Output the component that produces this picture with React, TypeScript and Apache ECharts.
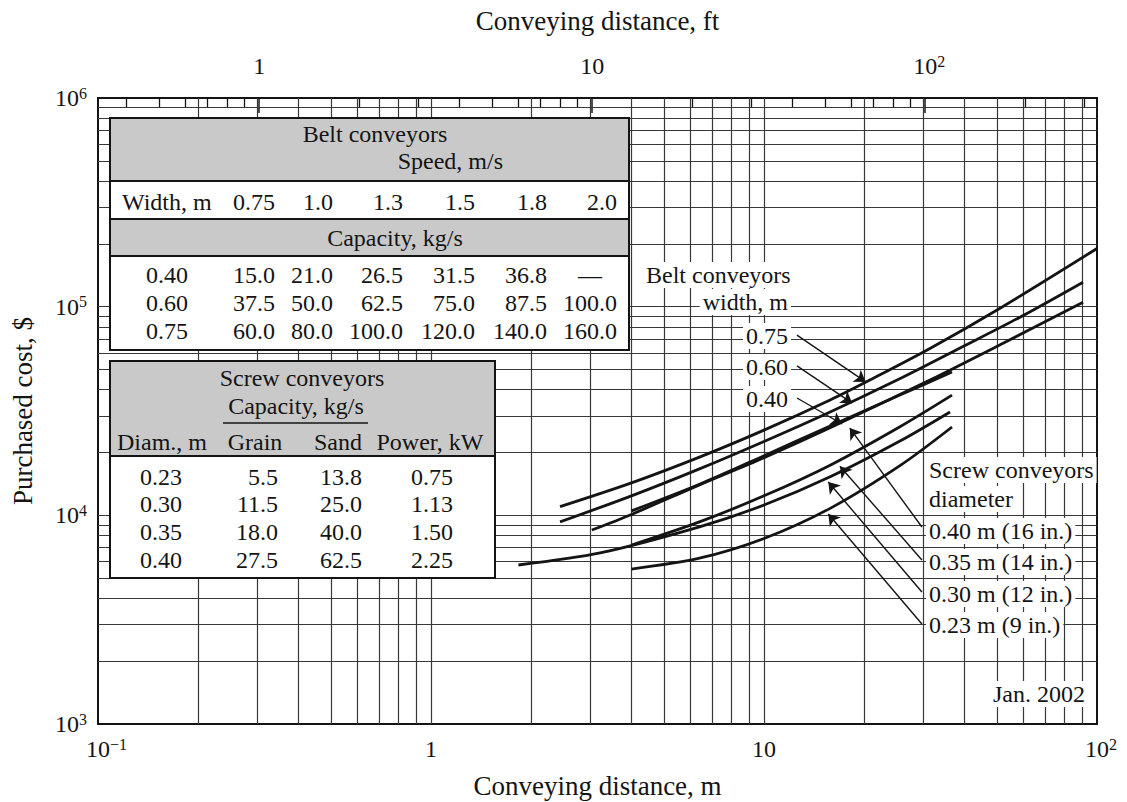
import React, { useEffect, useRef } from 'react';
import * as echarts from 'echarts';

const SERIF = "'Liberation Serif', 'DejaVu Serif', serif";
const INK = '#141414';
const M_PER_FT = 0.3048;

// ---- Curves (conveying distance in m, purchased cost in $) ----
const belt075X = [2.44, 4.0, 6.4, 10, 15.8, 20.8, 31.5, 51, 100];
const belt075Y = [11000, 14300, 19000, 25600, 35700, 44500, 63000, 98000, 190000];
const belt060X = [2.44, 4.0, 6.4, 10, 15.8, 25.1, 38.8, 58.7, 90.8];
const belt060Y = [9300, 12400, 16700, 22600, 31300, 44500, 63400, 89000, 131000];
const belt040X = [3.04, 4.0, 6.4, 10, 15.8, 31.5, 51, 90.8];
const belt040Y = [8500, 10100, 14000, 18900, 26300, 44500, 65500, 105000];
const screw040X = [4.0, 6.4, 10, 15.8, 25.6, 36.7];
const screw040Y = [10500, 14100, 19300, 26800, 37700, 48600];
const screw035X = [4.0, 6.4, 10, 15.8, 25.6, 36.7];
const screw035Y = [7200, 9300, 12400, 17400, 26600, 37700];
const screw030X = [1.83, 3.22, 6.4, 10, 15.8, 25.6, 36.2];
const screw030Y = [5780, 6600, 8800, 11200, 15300, 22700, 31300];
const screw023X = [4.0, 6.4, 10, 15.8, 25.6, 36.7];
const screw023Y = [5530, 6230, 7740, 10800, 17300, 26500];

// ---- Log-paper grid values ----
const gridXValues = [0.2, 0.3, 0.4, 0.5, 0.6, 0.7, 0.8, 0.9, 1, 2, 3, 4, 5, 6, 7, 8, 9, 10, 20, 30, 40, 50, 60, 70, 80, 90];
const gridYValues = [2000, 3000, 4000, 5000, 6000, 7000, 8000, 9000, 10000, 20000, 30000, 40000, 50000, 60000, 70000, 80000, 90000,
  100000, 200000, 300000, 400000, 500000, 600000, 700000, 800000, 900000];
const ftMajor = [1, 10, 100];
const ftMinor = [0.4, 0.5, 0.6, 0.7, 0.8, 0.9, 2, 3, 4, 5, 6, 7, 8, 9, 20, 30, 40, 50, 60, 70, 80, 90, 200, 300];

// ---- Tables ----
const beltTitle = 'Belt conveyors';
const beltSpeedTitle = 'Speed, m/s';
const beltWidthHead = 'Width, m';
const beltSpeeds = ['0.75', '1.0', '1.3', '1.5', '1.8', '2.0'];
const beltCapTitle = 'Capacity, kg/s';
const beltWidths = ['0.40', '0.60', '0.75'];
const beltCap040 = ['15.0', '21.0', '26.5', '31.5', '36.8', '—'];
const beltCap060 = ['37.5', '50.0', '62.5', '75.0', '87.5', '100.0'];
const beltCap075 = ['60.0', '80.0', '100.0', '120.0', '140.0', '160.0'];

const screwTitle = 'Screw conveyors';
const screwCapTitle = 'Capacity, kg/s';
const screwHeads = ['Diam., m', 'Grain', 'Sand', 'Power, kW'];
const screwDiam = ['0.23', '0.30', '0.35', '0.40'];
const screwGrain = ['5.5', '11.5', '18.0', '27.5'];
const screwSand = ['13.8', '25.0', '40.0', '62.5'];
const screwPower = ['0.75', '1.13', '1.50', '2.25'];

// ---- Annotations ----
const beltLabelLines = ['Belt conveyors', 'width, m'];
const beltWidthLabels = ['0.75', '0.60', '0.40'];
const screwLabelLines = ['Screw conveyors', 'diameter'];
const screwDiamLabels = ['0.40 m (16 in.)', '0.35 m (14 in.)', '0.30 m (12 in.)', '0.23 m (9 in.)'];
const dateLabel = 'Jan. 2002';
const beltArrowFrom = [[12.56, 73100], [12.56, 52000], [12.56, 36500]];
const beltArrowTo = [[20.2, 43600], [18.4, 34500], [17.15, 27400]];
const screwArrowFrom = [[29.8, 8790], [29.8, 6110], [29.8, 4290], [29.8, 3015]];
const screwArrowTo = [[18.1, 26200], [16.9, 17200], [15.6, 14450], [15.6, 10150]];

const zip = (xs: number[], ys: number[]) => xs.map((x, i) => [x, ys[i]]);

const rich = {
  b: { fontSize: 24, fontFamily: SERIF, color: INK, lineHeight: 26 },
  s: { fontSize: 16, fontFamily: SERIF, color: INK, verticalAlign: 'top', lineHeight: 16 },
  h: { fontSize: 16, fontFamily: SERIF, color: 'rgba(0,0,0,0)', verticalAlign: 'top', lineHeight: 16 },
};

function powLabel(v: number, centerBase: boolean) {
  const e = Math.round(Math.log10(v));
  if (e === 0) return '{b|1}';
  if (e === 1) return '{b|10}';
  const sup = e < 0 ? '−' + String(-e) : String(e);
  return (centerBase ? `{h|${sup}}` : '') + `{b|10}{s|${sup}}`;
}

function buildOption() {
  const curveStyle = { color: INK, width: 2.8 };
  const curve = (name: string, xs: number[], ys: number[]) => ({
    name, type: 'line', data: zip(xs, ys), smooth: 0.3, showSymbol: false, symbol: 'none',
    lineStyle: curveStyle, itemStyle: { color: INK }, z: 20, silent: true,
  });

  const T = (text: string, x: number, y: number, align = 'left', extra: any = {}) => ({
    type: 'text', x, y, z: 12, silent: true,
    style: { text, fontSize: 24, fontFamily: SERIF, fill: INK, align, verticalAlign: 'middle', ...extra },
  });
  const R = (x: number, y: number, w: number, h: number, fill: string, stroke?: string, lw = 0) => ({
    type: 'rect', z: 10, silent: true, shape: { x, y, width: w, height: h },
    style: { fill, stroke: stroke || 'none', lineWidth: lw },
  });
  const L = (x1: number, y1: number, x2: number, y2: number, lw = 2) => ({
    type: 'line', z: 11, silent: true, shape: { x1, y1, x2, y2 }, style: { stroke: INK, lineWidth: lw },
  });

  const gray = '#c9c9c9';
  const els: any[] = [];
  // Belt table
  const bx = 110, bw = 519;
  els.push(R(bx, 118, bw, 63, gray));
  els.push(R(bx, 181, bw, 38, '#fff'));
  els.push(R(bx, 219, bw, 37, gray));
  els.push(R(bx, 256, bw, 94, '#fff'));
  els.push(L(bx, 181, bx + bw, 181));
  els.push(L(bx, 219, bx + bw, 219));
  els.push(L(bx, 256, bx + bw, 256));
  els.push({ ...R(bx, 118, bw, 232, 'none', INK, 2), z: 11 });
  els.push(T(beltTitle, 375, 134, 'center'));
  els.push(T(beltSpeedTitle, 503, 161, 'right'));
  els.push(T(beltWidthHead, 122, 202, 'left'));
  const beltCols = [275, 333, 403, 475, 547, 617];
  beltSpeeds.forEach((s, i) => els.push(T(s, beltCols[i], 202, 'right')));
  els.push(T(beltCapTitle, 395, 238, 'center'));
  const beltRowsY = [275, 303, 331];
  const beltCaps = [beltCap040, beltCap060, beltCap075];
  beltWidths.forEach((w, r) => {
    els.push(T(w, 167, beltRowsY[r], 'center'));
    beltCaps[r].forEach((c, i) => {
      if (c === '—') els.push(T(c, 590, beltRowsY[r], 'center'));
      else els.push(T(c, beltCols[i], beltRowsY[r], 'right'));
    });
  });

  // Screw table
  const sx = 110, sw = 385;
  els.push(R(sx, 361, sw, 95, gray));
  els.push(R(sx, 456, sw, 122, '#fff'));
  els.push(L(sx, 456, sx + sw, 456));
  els.push({ ...R(sx, 361, sw, 217, 'none', INK, 2), z: 11 });
  els.push(T(screwTitle, 302, 378, 'center'));
  els.push(T(screwCapTitle, 296, 406, 'center'));
  els.push(L(223, 423, 368, 423, 1.5));
  els.push(T(screwHeads[0], 117, 442, 'left'));
  els.push(T(screwHeads[1], 255, 442, 'center'));
  els.push(T(screwHeads[2], 338, 442, 'center'));
  els.push(T(screwHeads[3], 430, 442, 'center'));
  const screwRowsY = [477, 504, 532, 560];
  screwDiam.forEach((d, r) => {
    els.push(T(d, 161, screwRowsY[r], 'center'));
    els.push(T(screwGrain[r], 278, screwRowsY[r], 'right'));
    els.push(T(screwSand[r], 362, screwRowsY[r], 'right'));
    els.push(T(screwPower[r], 453, screwRowsY[r], 'right'));
  });

  // Curve labels with white boxes
  const box = { backgroundColor: '#fff', padding: [1, 3] };
  els.push(T(beltLabelLines[0], 643, 275, 'left', box));
  els.push(T(beltLabelLines[1], 791, 302, 'right', box));
  const beltLabY = [336, 367, 399];
  beltWidthLabels.forEach((t, i) => els.push(T(t, 791, beltLabY[i], 'right', box)));
  els.push(T(screwLabelLines[0], 926, 470, 'left', box));
  els.push(T(screwLabelLines[1], 926, 499, 'left', box));
  const screwLabY = [531, 562, 594, 625];
  screwDiamLabels.forEach((t, i) => els.push(T(t, 926, screwLabY[i], 'left', box)));
  els.push(T(dateLabel, 1088, 694, 'right', box));

  const arrows = [
    ...beltArrowFrom.map((f, i) => [{ coord: f }, { coord: beltArrowTo[i] }]),
    ...screwArrowFrom.map((f, i) => [{ coord: f }, { coord: screwArrowTo[i] }]),
  ];

  const axisLabelBase = { fontSize: 24, fontFamily: SERIF, color: INK, rich };

  return {
    animation: false,
    backgroundColor: '#fff',
    textStyle: { fontFamily: SERIF, color: INK },
    grid: {
      left: 98, top: 98, width: 999, height: 626, show: true,
      borderColor: INK, borderWidth: 2, backgroundColor: 'rgba(0,0,0,0)',
      containLabel: false, outerBoundsMode: 'none',
    },
    xAxis: [
      {
        type: 'log', logBase: 10, min: 0.1, max: 100, position: 'bottom',
        axisLine: { show: false }, axisTick: { show: false }, splitLine: { show: false }, minorSplitLine: { show: false },
        axisLabel: { ...axisLabelBase, margin: 12, formatter: (v: number) => powLabel(v, true) },
        name: 'Conveying distance, m', nameLocation: 'middle', nameGap: 48,
        nameTextStyle: { fontSize: 27, fontFamily: SERIF, color: INK },
      },
      {
        type: 'log', logBase: 10, min: 0.1 / M_PER_FT, max: 100 / M_PER_FT, position: 'top',
        axisLine: { show: false }, splitLine: { show: false },
        axisTick: { show: true, inside: true, length: 15, customValues: ftMajor, lineStyle: { color: INK, width: 1.5 } },
        axisLabel: { ...axisLabelBase, margin: 19, customValues: ftMajor, formatter: (v: number) => powLabel(v, true) },
        name: 'Conveying distance, ft', nameLocation: 'middle', nameGap: 64,
        nameTextStyle: { fontSize: 27, fontFamily: SERIF, color: INK },
      },
      {
        type: 'log', logBase: 10, min: 0.1 / M_PER_FT, max: 100 / M_PER_FT, position: 'top',
        axisLine: { show: false }, splitLine: { show: false },
        axisTick: { show: true, inside: true, length: 9, customValues: ftMinor, lineStyle: { color: INK, width: 1.3 } },
        axisLabel: { show: false },
      },
    ],
    yAxis: [
      {
        type: 'log', logBase: 10, min: 1000, max: 1000000, position: 'left',
        axisLine: { show: false }, axisTick: { show: false }, splitLine: { show: false },
        axisLabel: { ...axisLabelBase, margin: 11, formatter: (v: number) => powLabel(v, false) },
        name: 'Purchased cost, $', nameLocation: 'middle', nameGap: 62,
        nameTextStyle: { fontSize: 27, fontFamily: SERIF, color: INK },
      },
    ],
    graphic: { elements: els },
    series: [
      {
        name: 'grid', type: 'line', data: [], z: 1, silent: true,
        markLine: {
          silent: true, symbol: ['none', 'none'], label: { show: false },
          lineStyle: { color: '#383838', width: 1.2, type: 'solid' },
          emphasis: { disabled: true },
          data: [...gridXValues.map((v) => ({ xAxis: v })), ...gridYValues.map((v) => ({ yAxis: v }))],
        },
      },
      curve('Belt 0.75 m', belt075X, belt075Y),
      curve('Belt 0.60 m', belt060X, belt060Y),
      curve('Belt 0.40 m', belt040X, belt040Y),
      curve('Screw 0.40 m', screw040X, screw040Y),
      curve('Screw 0.35 m', screw035X, screw035Y),
      curve('Screw 0.30 m', screw030X, screw030Y),
      curve('Screw 0.23 m', screw023X, screw023Y),
      {
        name: 'arrows', type: 'line', data: [], z: 30, silent: true,
        itemStyle: { color: INK },
        markLine: {
          silent: true, symbol: ['none', 'arrow'], symbolSize: 11, label: { show: false },
          itemStyle: { color: INK },
          lineStyle: { color: INK, width: 1.4, type: 'solid' },
          emphasis: { disabled: true },
          data: arrows,
        },
      },
    ],
  };
}

export default function App() {
  const ref = useRef<HTMLDivElement>(null);
  useEffect(() => {
    const chart = echarts.init(ref.current!, null, { renderer: 'svg' });
    chart.setOption(buildOption() as any);
    return () => chart.dispose();
  }, []);
  return (
    <div
      ref={ref}
      style={{ position: 'absolute', left: 0, top: 0, width: 1127, height: 802, background: '#fff' }}
    />
  );
}
